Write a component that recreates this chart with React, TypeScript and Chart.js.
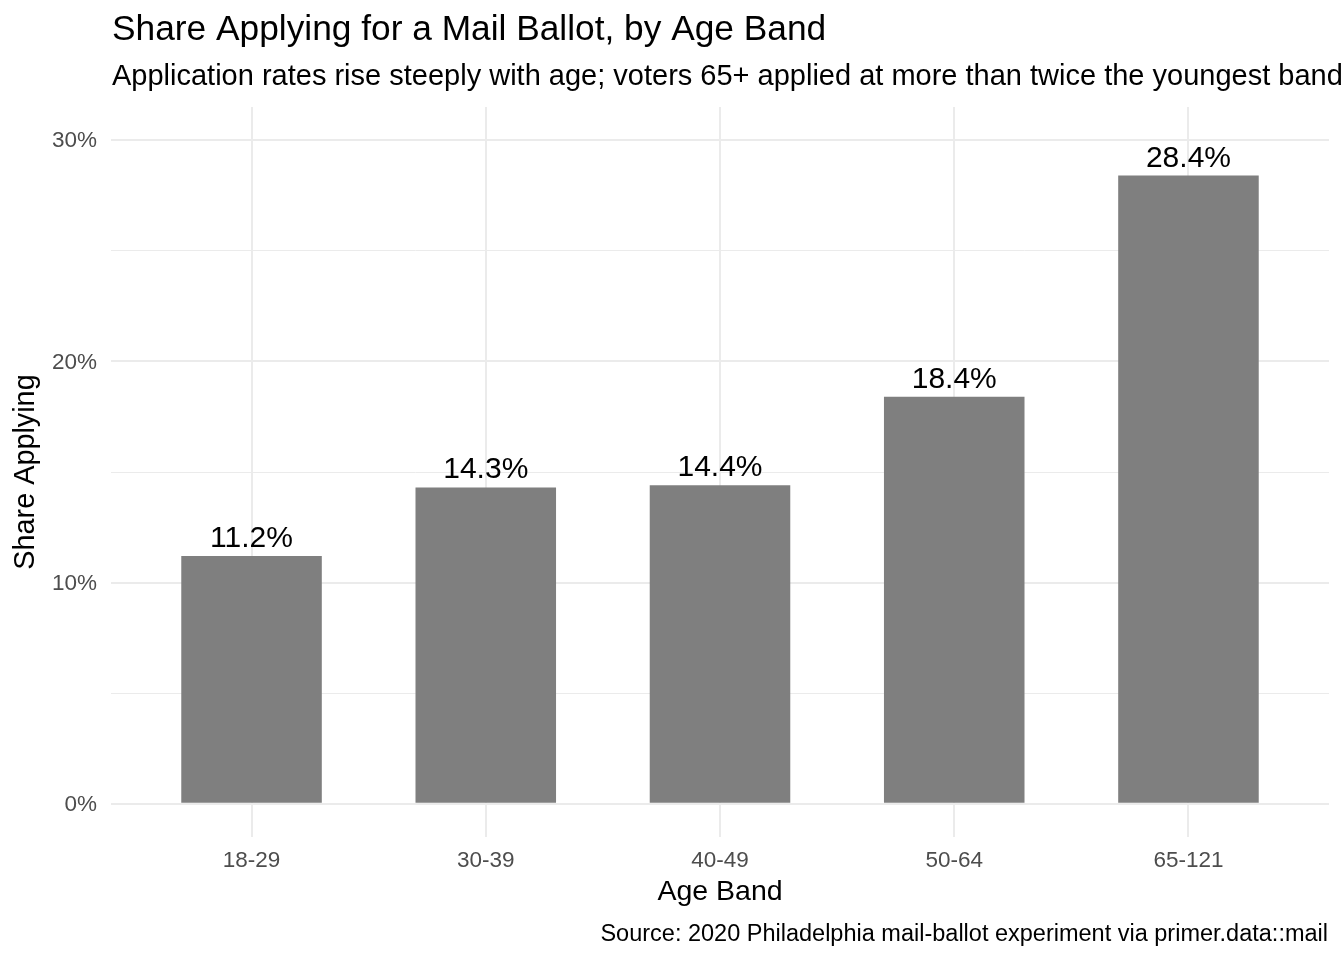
import { useEffect, useRef } from 'react';
import { Chart, ChartConfiguration, Plugin, registerables } from 'chart.js';

Chart.register(...registerables);

const ageBands = ['18-29', '30-39', '40-49', '50-64', '65-121'];
const shareApplying = [11.2, 14.3, 14.4, 18.4, 28.4];
const yTicks = [0, 5, 10, 15, 20, 25, 30];

const TITLE = 'Share Applying for a Mail Ballot, by Age Band';
const SUBTITLE =
  'Application rates rise steeply with age; voters 65+ applied at more than twice the youngest band';
const CAPTION = 'Source: 2020 Philadelphia mail-ballot experiment via primer.data::mail';
const X_TITLE = 'Age Band';
const Y_TITLE = 'Share Applying';

const FONT = '"Liberation Sans", Arial, Helvetica, sans-serif';

// draws titles, tick labels and bar value labels (ggplot-like text layout)
const textPlugin: Plugin<'bar'> = {
  id: 'ggText',
  afterDraw(chart) {
    const { ctx, chartArea } = chart;
    const xs = chart.scales.x;
    const ys = chart.scales.y;
    ctx.save();

    ctx.fillStyle = '#000000';
    ctx.textAlign = 'left';
    ctx.textBaseline = 'alphabetic';
    ctx.font = `35.3px ${FONT}`;
    ctx.fillText(TITLE, chartArea.left + 1, 40);
    ctx.font = `29px ${FONT}`;
    ctx.fillText(SUBTITLE, chartArea.left + 1, 85);

    // y tick labels
    ctx.fillStyle = '#4d4d4d';
    ctx.font = `22.5px ${FONT}`;
    ctx.textAlign = 'right';
    ctx.textBaseline = 'middle';
    [0, 10, 20, 30].forEach((v) => {
      ctx.fillText(`${v}%`, chartArea.left - 14, ys.getPixelForValue(v) + 1);
    });

    // x tick labels
    ctx.textAlign = 'center';
    ctx.textBaseline = 'alphabetic';
    ageBands.forEach((lab, i) => {
      ctx.fillText(lab, xs.getPixelForValue(i), chartArea.bottom + 30);
    });

    // axis titles
    ctx.fillStyle = '#000000';
    ctx.font = `28.5px ${FONT}`;
    ctx.fillText(X_TITLE, (chartArea.left + chartArea.right) / 2, chartArea.bottom + 63);
    ctx.save();
    ctx.translate(34, (chartArea.top + chartArea.bottom) / 2);
    ctx.rotate(-Math.PI / 2);
    ctx.font = `28.8px ${FONT}`;
    ctx.fillText(Y_TITLE, 0, 0);
    ctx.restore();

    // caption
    ctx.font = `23.5px ${FONT}`;
    ctx.textAlign = 'right';
    ctx.fillText(CAPTION, chartArea.right - 1, 941);

    // bar labels
    ctx.font = `30px ${FONT}`;
    ctx.textAlign = 'center';
    const meta = chart.getDatasetMeta(0);
    meta.data.forEach((bar, i) => {
      ctx.fillText(`${shareApplying[i].toFixed(1)}%`, bar.x, bar.y - 9);
    });

    ctx.restore();
  },
};

export default function App() {
  const chartRef = useRef<HTMLCanvasElement>(null);
  const chartInstance = useRef<Chart | null>(null);

  useEffect(() => {
    document.body.style.margin = '0';
    if (!chartRef.current) return;
    if (chartInstance.current) chartInstance.current.destroy();

    const ctx = chartRef.current.getContext('2d');
    if (!ctx) return;

    const config: ChartConfiguration<'bar'> = {
      type: 'bar',
      data: {
        datasets: [
          {
            data: shareApplying.map((v, i) => ({ x: i, y: v })) as any,
            backgroundColor: '#7f7f7f',
            borderWidth: 0,
            barPercentage: 0.6,
            categoryPercentage: 1,
          },
        ],
      },
      options: {
        responsive: true,
        maintainAspectRatio: false,
        animation: false,
        layout: {
          padding: { left: 111, right: 15, top: 107, bottom: 123 },
        },
        plugins: {
          legend: { display: false },
          title: { display: false },
          tooltip: { enabled: false },
        },
        scales: {
          x: {
            type: 'linear',
            min: -0.6,
            max: ageBands.length - 1 + 0.6,
            offset: false,
            afterBuildTicks: (axis) => {
              axis.ticks = ageBands.map((_, i) => ({ value: i }));
            },
            ticks: { display: false },
            border: { display: false },
            grid: { color: '#ebebeb', lineWidth: 2, drawTicks: false, offset: false },
          },
          y: {
            type: 'linear',
            min: -1.5,
            max: 31.5,
            afterBuildTicks: (axis) => {
              axis.ticks = yTicks.map((v) => ({ value: v }));
            },
            ticks: { display: false },
            border: { display: false },
            grid: {
              color: '#ebebeb',
              lineWidth: (c) => (c.tick && c.tick.value % 10 === 0 ? 2 : 1),
              drawTicks: false,
            },
          },
        },
      },
      plugins: [textPlugin],
    };

    chartInstance.current = new Chart(ctx, config);

    return () => {
      if (chartInstance.current) {
        chartInstance.current.destroy();
        chartInstance.current = null;
      }
    };
  }, []);

  return (
    <div style={{ width: 1344, height: 960, position: 'relative', background: '#ffffff' }}>
      <canvas ref={chartRef}></canvas>
    </div>
  );
}
